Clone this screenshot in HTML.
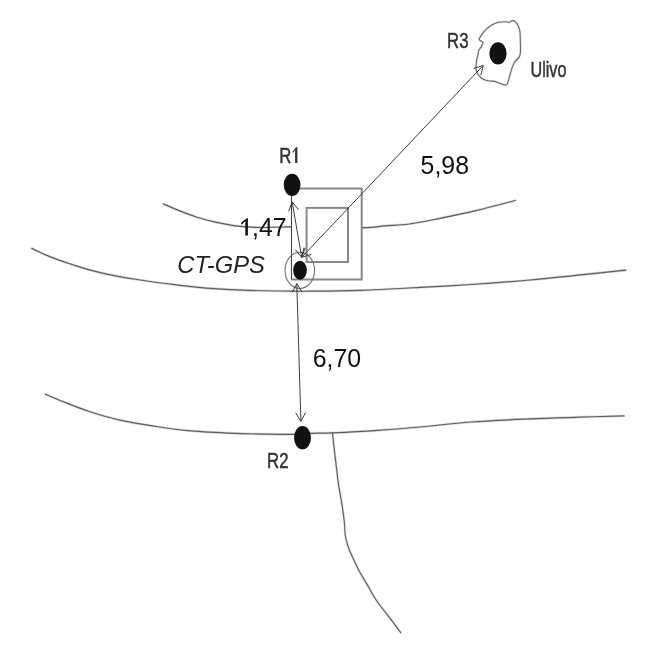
<!DOCTYPE html>
<html><head><meta charset="utf-8"><style>html,body{margin:0;padding:0;background:#fff;width:649px;height:649px;overflow:hidden}svg{display:block;will-change:transform}</style></head>
<body><svg width="649" height="649" viewBox="0 0 649 649">
<rect width="649" height="649" fill="#fff"/>
<g>
<g fill="none" stroke="#dcdcdc" stroke-width="2.7" stroke-linecap="round" stroke-linejoin="round">
<path d="M163.5,203.9 C166.0,205.0 172.9,208.2 178.5,210.4 C184.1,212.6 190.8,215.2 197.0,217.2 C203.2,219.1 208.3,220.6 215.5,222.1 C222.7,223.6 232.2,225.5 240.0,226.4 C247.8,227.3 253.5,227.4 262.0,227.5 C270.5,227.6 274.4,226.8 291.0,226.8 C307.6,226.8 346.2,227.9 361.8,227.7 C377.4,227.5 376.8,226.4 384.7,225.8 C392.6,225.2 400.1,225.2 409.3,224.0 C418.5,222.8 428.7,220.6 440.0,218.3 C451.3,216.0 464.5,213.3 477.0,210.3 C489.5,207.3 508.8,202.1 515.2,200.5"/>
<path d="M31.8,248.4 C34.8,249.8 42.6,253.8 49.7,256.6 C56.8,259.4 65.9,262.6 74.3,265.3 C82.7,268.0 89.5,270.2 100.0,272.6 C110.5,275.0 123.7,277.4 137.0,279.5 C150.3,281.6 167.2,283.8 180.0,285.3 C192.8,286.8 202.6,287.8 213.9,288.6 C225.2,289.4 235.1,289.9 247.8,290.3 C260.5,290.7 279.6,291.0 290.0,291.1 C300.4,291.2 298.2,291.3 310.0,291.2 C321.8,291.1 342.5,290.9 360.8,290.3 C379.1,289.7 401.7,288.4 420.0,287.4 C438.3,286.4 452.5,285.7 470.8,284.5 C489.1,283.3 511.7,281.6 530.0,280.0 C548.3,278.4 564.8,276.5 580.8,274.9 C596.8,273.3 618.3,271.0 625.8,270.2"/>
<path d="M45.5,394.2 C48.7,395.6 57.4,399.4 64.7,402.3 C72.0,405.2 80.1,408.5 89.3,411.5 C98.5,414.5 109.2,417.8 120.0,420.2 C130.8,422.6 142.6,424.4 153.9,426.1 C165.2,427.9 175.1,429.5 187.8,430.7 C200.5,431.9 216.8,432.6 230.0,433.2 C243.2,433.8 256.3,434.0 267.0,434.2 C277.7,434.4 286.7,434.5 294.0,434.4 C301.3,434.2 304.5,433.6 311.0,433.3 C317.5,433.0 321.8,433.3 332.9,432.8 C344.0,432.3 363.3,431.3 377.8,430.3 C392.3,429.3 404.5,428.4 420.0,427.0 C435.5,425.6 452.5,423.4 470.8,422.0 C489.1,420.6 511.8,419.7 530.0,418.9 C548.2,418.1 564.3,417.7 580.0,417.2 C595.7,416.7 616.7,416.1 624.0,415.9"/>
<path d="M332.4,432.8 C333.3,440.7 336.4,468.4 337.9,480.0 C339.4,491.6 340.5,495.1 341.6,502.2 C342.7,509.3 343.8,517.0 344.4,522.5 C345.0,528.0 344.7,531.5 345.3,535.5 C345.9,539.5 346.9,542.8 348.1,546.5 C349.3,550.2 350.9,553.7 352.7,557.6 C354.4,561.5 356.4,565.8 358.6,570.0 C360.9,574.2 363.1,577.7 366.2,582.9 C369.3,588.1 373.4,595.9 377.0,601.3 C380.6,606.7 383.9,610.1 387.8,615.3 C391.8,620.5 398.6,629.7 400.7,632.6" stroke-width="2.4"/>
<path d="M479.2,39.5 C479.1,38.1 480.8,36.2 482.0,34.4 C483.2,32.6 484.9,30.5 486.6,28.9 C488.3,27.3 490.2,25.8 492.2,24.7 C494.2,23.6 496.5,22.7 498.6,22.2 C500.8,21.7 503.2,21.7 505.1,21.7 C507.0,21.7 508.6,22.4 509.7,22.2 C510.8,22.0 511.1,20.8 512.0,20.7 C512.9,20.6 514.3,20.9 515.3,21.7 C516.3,22.4 517.2,23.5 518.0,25.2 C518.8,26.9 519.5,28.7 519.9,31.6 C520.3,34.5 520.3,39.2 520.4,42.7 C520.5,46.2 520.6,50.3 520.4,52.8 C520.2,55.2 519.9,56.0 519.0,57.4 C518.1,58.8 516.4,59.6 515.3,61.1 C514.2,62.6 513.4,64.1 512.5,66.6 C511.6,69.1 510.6,73.1 509.7,75.9 C508.8,78.8 508.2,82.2 507.4,83.7 C506.6,85.2 506.4,85.2 505.1,85.1 C503.8,85.0 501.3,83.9 499.6,83.3 C497.9,82.7 496.7,81.8 495.0,81.4 C493.3,81.0 491.2,81.3 489.4,81.0 C487.5,80.7 485.6,80.4 483.9,79.6 C482.2,78.8 480.4,77.3 479.2,75.9 C478.0,74.5 477.0,73.0 476.5,71.3 C476.0,69.6 475.9,67.7 476.0,65.7 C476.1,63.7 476.6,61.0 476.9,59.2 C477.2,57.4 477.6,56.5 477.9,55.0 C478.2,53.5 478.4,51.1 478.8,50.0 C479.2,48.9 479.5,49.5 480.2,48.3 C480.9,47.1 483.1,44.2 482.9,42.7 C482.7,41.2 479.3,40.9 479.2,39.5Z" stroke="#e4e4e4" stroke-width="2.4"/>
</g>
<g fill="none" stroke="#5e5e5e" stroke-width="1.2" stroke-linecap="round" stroke-linejoin="round">
<path d="M163.5,203.9 C166.0,205.0 172.9,208.2 178.5,210.4 C184.1,212.6 190.8,215.2 197.0,217.2 C203.2,219.1 208.3,220.6 215.5,222.1 C222.7,223.6 232.2,225.5 240.0,226.4 C247.8,227.3 253.5,227.4 262.0,227.5 C270.5,227.6 274.4,226.8 291.0,226.8 C307.6,226.8 346.2,227.9 361.8,227.7 C377.4,227.5 376.8,226.4 384.7,225.8 C392.6,225.2 400.1,225.2 409.3,224.0 C418.5,222.8 428.7,220.6 440.0,218.3 C451.3,216.0 464.5,213.3 477.0,210.3 C489.5,207.3 508.8,202.1 515.2,200.5"/>
<path d="M31.8,248.4 C34.8,249.8 42.6,253.8 49.7,256.6 C56.8,259.4 65.9,262.6 74.3,265.3 C82.7,268.0 89.5,270.2 100.0,272.6 C110.5,275.0 123.7,277.4 137.0,279.5 C150.3,281.6 167.2,283.8 180.0,285.3 C192.8,286.8 202.6,287.8 213.9,288.6 C225.2,289.4 235.1,289.9 247.8,290.3 C260.5,290.7 279.6,291.0 290.0,291.1 C300.4,291.2 298.2,291.3 310.0,291.2 C321.8,291.1 342.5,290.9 360.8,290.3 C379.1,289.7 401.7,288.4 420.0,287.4 C438.3,286.4 452.5,285.7 470.8,284.5 C489.1,283.3 511.7,281.6 530.0,280.0 C548.3,278.4 564.8,276.5 580.8,274.9 C596.8,273.3 618.3,271.0 625.8,270.2"/>
<path d="M45.5,394.2 C48.7,395.6 57.4,399.4 64.7,402.3 C72.0,405.2 80.1,408.5 89.3,411.5 C98.5,414.5 109.2,417.8 120.0,420.2 C130.8,422.6 142.6,424.4 153.9,426.1 C165.2,427.9 175.1,429.5 187.8,430.7 C200.5,431.9 216.8,432.6 230.0,433.2 C243.2,433.8 256.3,434.0 267.0,434.2 C277.7,434.4 286.7,434.5 294.0,434.4 C301.3,434.2 304.5,433.6 311.0,433.3 C317.5,433.0 321.8,433.3 332.9,432.8 C344.0,432.3 363.3,431.3 377.8,430.3 C392.3,429.3 404.5,428.4 420.0,427.0 C435.5,425.6 452.5,423.4 470.8,422.0 C489.1,420.6 511.8,419.7 530.0,418.9 C548.2,418.1 564.3,417.7 580.0,417.2 C595.7,416.7 616.7,416.1 624.0,415.9"/>
<path d="M332.4,432.8 C333.3,440.7 336.4,468.4 337.9,480.0 C339.4,491.6 340.5,495.1 341.6,502.2 C342.7,509.3 343.8,517.0 344.4,522.5 C345.0,528.0 344.7,531.5 345.3,535.5 C345.9,539.5 346.9,542.8 348.1,546.5 C349.3,550.2 350.9,553.7 352.7,557.6 C354.4,561.5 356.4,565.8 358.6,570.0 C360.9,574.2 363.1,577.7 366.2,582.9 C369.3,588.1 373.4,595.9 377.0,601.3 C380.6,606.7 383.9,610.1 387.8,615.3 C391.8,620.5 398.6,629.7 400.7,632.6" stroke-width="1.1"/>
<path d="M479.2,39.5 C479.1,38.1 480.8,36.2 482.0,34.4 C483.2,32.6 484.9,30.5 486.6,28.9 C488.3,27.3 490.2,25.8 492.2,24.7 C494.2,23.6 496.5,22.7 498.6,22.2 C500.8,21.7 503.2,21.7 505.1,21.7 C507.0,21.7 508.6,22.4 509.7,22.2 C510.8,22.0 511.1,20.8 512.0,20.7 C512.9,20.6 514.3,20.9 515.3,21.7 C516.3,22.4 517.2,23.5 518.0,25.2 C518.8,26.9 519.5,28.7 519.9,31.6 C520.3,34.5 520.3,39.2 520.4,42.7 C520.5,46.2 520.6,50.3 520.4,52.8 C520.2,55.2 519.9,56.0 519.0,57.4 C518.1,58.8 516.4,59.6 515.3,61.1 C514.2,62.6 513.4,64.1 512.5,66.6 C511.6,69.1 510.6,73.1 509.7,75.9 C508.8,78.8 508.2,82.2 507.4,83.7 C506.6,85.2 506.4,85.2 505.1,85.1 C503.8,85.0 501.3,83.9 499.6,83.3 C497.9,82.7 496.7,81.8 495.0,81.4 C493.3,81.0 491.2,81.3 489.4,81.0 C487.5,80.7 485.6,80.4 483.9,79.6 C482.2,78.8 480.4,77.3 479.2,75.9 C478.0,74.5 477.0,73.0 476.5,71.3 C476.0,69.6 475.9,67.7 476.0,65.7 C476.1,63.7 476.6,61.0 476.9,59.2 C477.2,57.4 477.6,56.5 477.9,55.0 C478.2,53.5 478.4,51.1 478.8,50.0 C479.2,48.9 479.5,49.5 480.2,48.3 C480.9,47.1 483.1,44.2 482.9,42.7 C482.7,41.2 479.3,40.9 479.2,39.5Z" stroke="#6a6a6a" stroke-width="1.1"/>
</g>
<g fill="#fff" stroke="#888" stroke-width="2">
<path d="M291.5,188.6 H361.7 V279.6 H291.5" />
<rect x="306.6" y="207.9" width="41.4" height="54.1"/>
</g>
<path d="M291.5,195 V279.6" fill="none" stroke="#444" stroke-width="1.1"/>
<ellipse cx="299.8" cy="270.4" rx="14.75" ry="18.1" fill="none" stroke="#707070" stroke-width="1.1"/>
<g fill="#111">
<ellipse cx="292.1" cy="184.8" rx="8.4" ry="11.1"/>
<ellipse cx="300" cy="270.2" rx="6.8" ry="9.45"/>
<ellipse cx="302.5" cy="437.7" rx="8.5" ry="11.6"/>
<ellipse cx="498" cy="53.4" rx="8.6" ry="11.1"/>
</g>
<g fill="none" stroke="#333" stroke-width="0.95">
<path d="M292.2,202.0 L301.7,257.3 M288.7,211.4 L292.2,202.0 L298.6,209.7 M305.2,247.9 L301.7,257.3 L295.3,249.6"/>
<path d="M301.7,257.3 L483.2,65.5 M311.3,254.4 L301.7,257.3 L304.0,247.6 M473.6,68.4 L483.2,65.5 L480.9,75.2"/>
<path d="M296.8,283.6 L300.9,421.3 M292.1,292.4 L296.8,283.6 L302.1,292.1 M305.6,412.5 L300.9,421.3 L295.6,412.8"/>
</g>
<g font-family="Liberation Sans, sans-serif">
<text transform="matrix(0.965 0 0 1 420.6 174.0)" font-size="25.8" fill="#111">5,98</text>
<text transform="matrix(0.965 0 0 1 252.0 235.7)" font-size="25.8" fill="#111">,47</text>
<path d="M245.3,235.5 H247.9 V218.1 H247.4 C244.0,220.2 242.2,221.9 241.2,222.8 V224.7 C242.7,223.8 244.5,222.3 245.3,220.9 Z" fill="#111"/>
<text transform="matrix(0.965 0 0 1 312.7 366.7)" font-size="25.8" fill="#111">6,70</text>
<text transform="matrix(0.99 0 0 1 177.3 272.7)" font-size="24" font-style="italic" fill="#222">CT-GPS</text>
<g stroke-width="0.5" stroke="#333" fill="#333">
<text transform="matrix(0.75 0 0 1 279.3 162.7)" font-size="22.3">R</text>
<path d="M295.1,163.0 H297.4 V146.9 H296.9 C294.0,148.8 293.7,150.4 292.7,151.2 V153.0 C294.2,152.2 294.4,150.8 295.1,149.5 Z" stroke="none"/>
<text transform="matrix(0.75 0 0 1 447.1 48.3)" font-size="22.3">R3</text>
<text transform="matrix(0.75 0 0 1 267.1 468.3)" font-size="22.3">R2</text>
<text transform="matrix(0.76 0 0 1 530.5 77.2)" font-size="21.3">Ulivo</text>
</g>
</g>
</g>
</svg></body></html>
